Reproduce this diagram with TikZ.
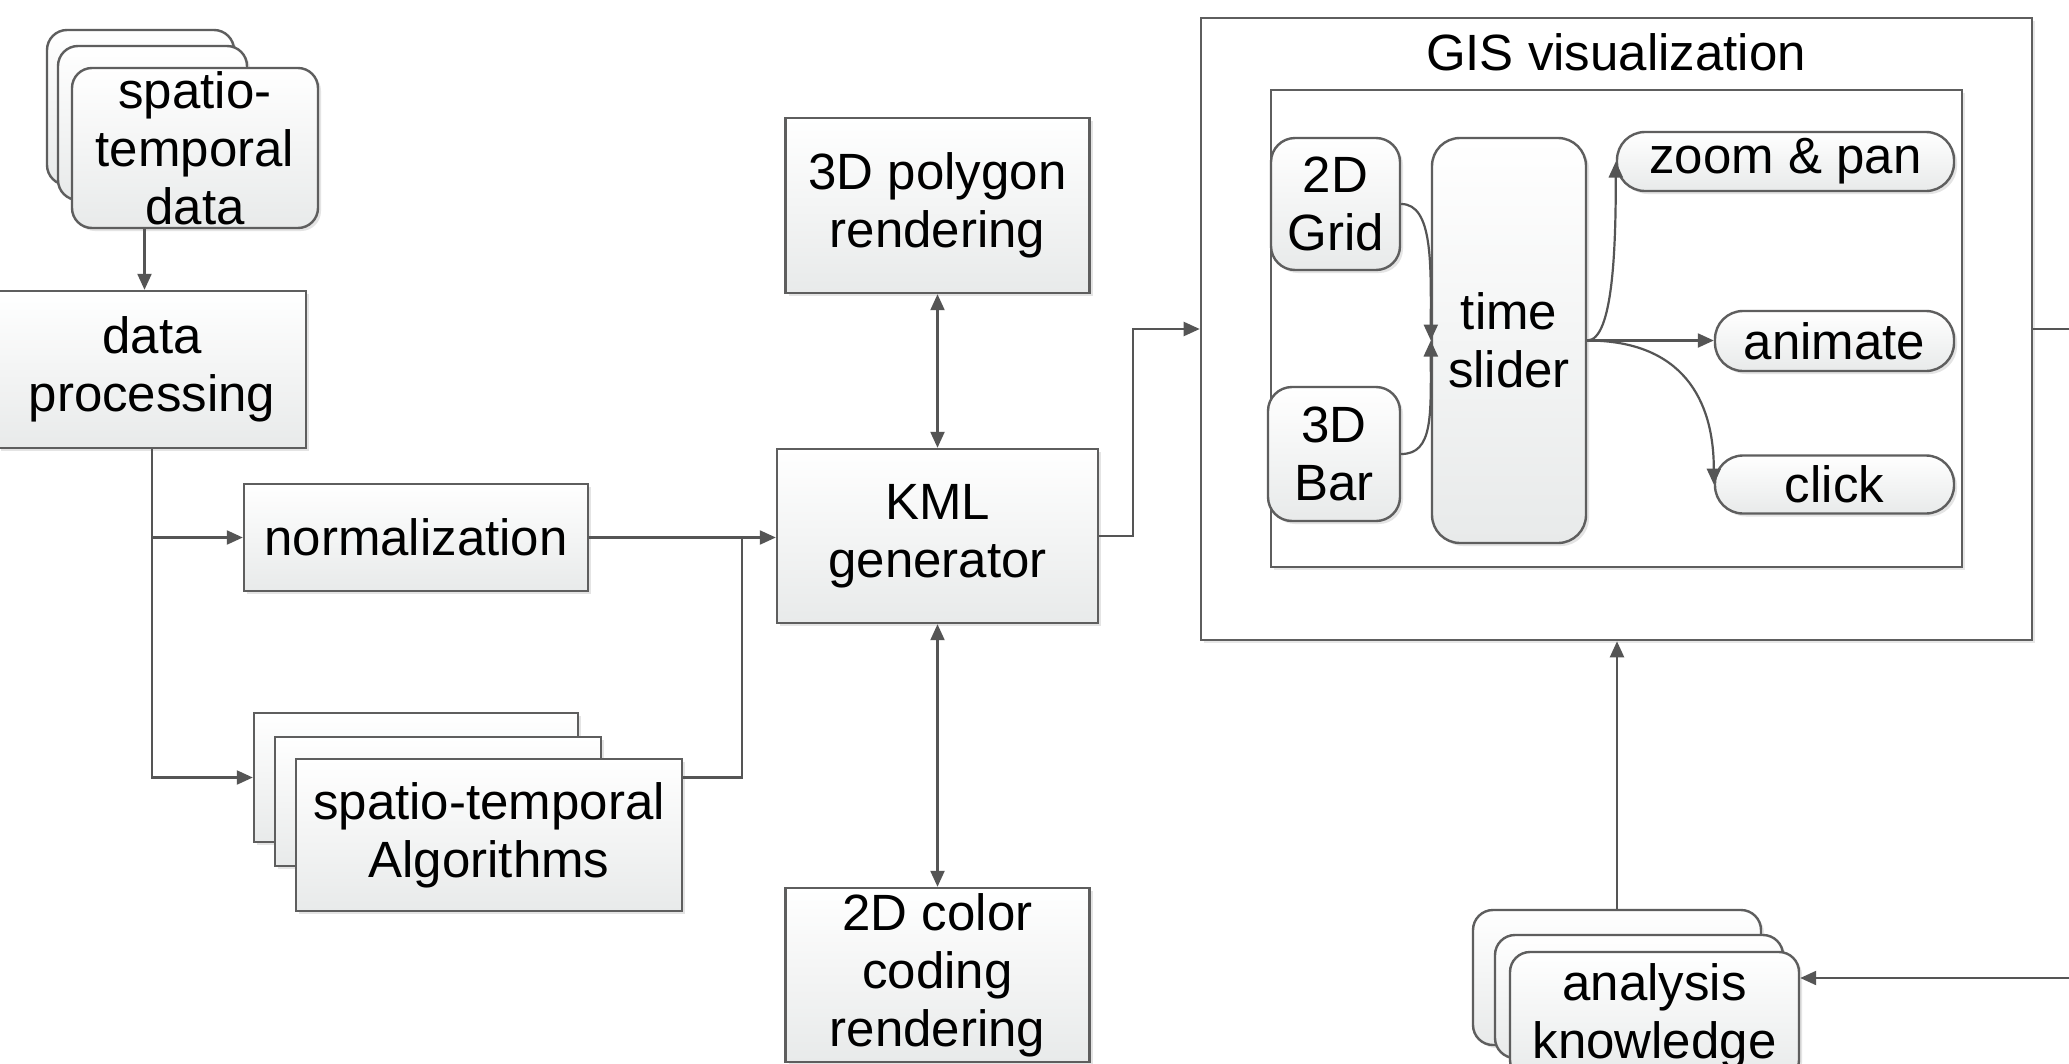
\documentclass[tikz,border=0pt]{standalone}
\usepackage{fontspec}
\setmainfont{Liberation Sans}
\usetikzlibrary{arrows.meta,shadows,calc}
\definecolor{linec}{HTML}{555555}
\definecolor{bordc}{HTML}{5E5E5E}
\definecolor{boxbot}{HTML}{E8EAEA}
\newcommand\myfs{\fontsize{51pt}{58pt}\selectfont}
\begin{document}
\begin{tikzpicture}[x=1pt,y=-1pt,
  base/.style={draw=bordc,line width=2.4pt,top color=white,bottom color=boxbot,
    font=\myfs,align=center,inner sep=0pt,
    drop shadow={shadow xshift=3pt,shadow yshift=-3pt,fill=black!30,opacity=0.35}},
  sqbox/.style={base},
  rbox/.style={base,rounded corners=20pt},
  pill/.style={base,rounded corners=28pt},
  frame/.style={draw=bordc,line width=2.6pt,fill=white,inner sep=0pt,
    drop shadow={shadow xshift=3pt,shadow yshift=-3pt,fill=black!30,opacity=0.3}},
  ln/.style={draw=linec,line width=2.2pt},
  arr/.style={ln,-{Triangle[length=16pt,width=14pt]}},
  darr/.style={ln,{Triangle[length=16pt,width=14pt]}-{Triangle[length=16pt,width=14pt]}}
]
\useasboundingbox (0,0) rectangle (2069,1063);
\clip (0,0) rectangle (2069,1063);
\fill[white] (0,0) rectangle (2069,1063);

% GIS frames
\node[frame,minimum width=831pt,minimum height=622pt] (gis) at (1616.5,329) {};
\node[frame,minimum width=691pt,minimum height=477pt] (gisin) at (1616.5,328.5) {};
\node[font=\myfs,anchor=base] (gisT) at (1616,70) {GIS visualization};

% spatio-temporal data stack
\node[rbox,minimum width=187pt,minimum height=155pt] (stD3) at (140.5,107.5) {};
\node[rbox,minimum width=189pt,minimum height=154pt] (stD2) at (152.5,123) {};
\node[rbox,minimum width=246pt,minimum height=160pt] (stD) at (195,148) {spatio-\\temporal\\data};

% data processing
\node[sqbox,minimum width=308pt,minimum height=157pt] (dp) at (152,369.5) {data\\processing};

% normalization
\node[sqbox,minimum width=344pt,minimum height=107pt] (norm) at (416,537.5) {normalization};

% algorithms stack
\node[sqbox,minimum width=324pt,minimum height=129pt] (alg3) at (416,777.5) {};
\node[sqbox,minimum width=326pt,minimum height=129pt] (alg2) at (438,801.5) {};
\node[sqbox,minimum width=386pt,minimum height=152pt] (alg) at (489,835) {spatio-temporal\\Algorithms};

% KML column
\node[sqbox,minimum width=321pt,minimum height=174pt] (kml) at (937.5,536) {KML\\generator};
\node[sqbox,minimum width=304pt,minimum height=175pt] (poly) at (937.5,205.5) {3D polygon\\rendering};
\node[sqbox,minimum width=304pt,minimum height=174pt] (color) at (937.5,975) {2D color\\coding\\rendering};

% inside GIS
\node[base,rounded corners=24pt,minimum width=129pt,minimum height=132pt] (grid) at (1335.5,204) {2D\\Grid};
\node[base,rounded corners=24pt,minimum width=132pt,minimum height=134pt] (bar) at (1334,454) {3D\\Bar};
\node[base,rounded corners=28pt,minimum width=154pt,minimum height=405pt] (slider) at (1509,340.5) {time\\slider};
\node[pill,minimum width=337pt,minimum height=59pt] (zoom) at (1785.5,161.5) {zoom \& pan};
\node[pill,minimum width=239pt,minimum height=60pt] (anim) at (1834.5,341) {animate};
\node[pill,minimum width=239pt,minimum height=58pt] (click) at (1834.5,484.5) {click};

% analysis knowledge stack
\node[rbox,minimum width=288pt,minimum height=135pt] (ak3) at (1617,977.5) {};
\node[rbox,minimum width=288pt,minimum height=123pt] (ak2) at (1639,996.5) {};
\node[rbox,minimum width=289pt,minimum height=128pt] (ak) at (1654.5,1016) {analysis\\knowledge};

% connectors
\draw[arr] ([xshift=-7.5pt]dp.north |- stD.south) -- ([xshift=-7.5pt]dp.north);
\draw[arr] (dp.south) |- (alg3.west);
\draw[arr] (dp.south |- norm.west) -- (norm.west);
\draw[arr] (norm.east) -- (norm.east -| kml.west);
\coordinate (jn) at (742,537.5);
\draw[ln] (alg.east |- alg3.west) -| (jn);
\draw[darr] (poly.south) -- (kml.north);
\draw[darr] (kml.south) -- (color.north);
\draw[arr] (kml.east) -- ++(34,0) |- (gis.west);
\coordinate (rt) at (2075,329);
\draw[ln] (gis.east) -- (rt);
\coordinate (rb) at (2075,978);
\draw[arr] (rb) -- (rb -| ak.east);
\draw[arr] (ak3.north) -- (ak3.north |- gis.south);

\draw[arr] (grid.east) .. controls +(32,0) and +(0,-75) .. (slider.west);
\draw[arr] (bar.east) .. controls +(32,0) and +(0,75) .. (slider.west);
\draw[arr] (slider.east) -- (slider.east -| anim.west);
\draw[arr] (slider.east) .. controls +(26,0) and +(0,85) .. (zoom.west);
\draw[arr] (slider.east) .. controls +(95,0) and +(0,-85) .. (click.west);
\end{tikzpicture}
\end{document}
